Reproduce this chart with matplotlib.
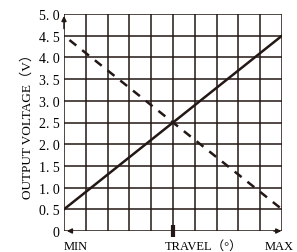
import matplotlib.pyplot as plt

# travel in grid units (0 = MIN, 10 = MAX), output voltage in volts
travel_solid = [0, 10]
volt_solid = [0.5, 4.5]
travel_dashed = [0.25, 10]
volt_dashed = [4.4, 0.5]
yticks = [0, 0.5, 1.0, 1.5, 2.0, 2.5, 3.0, 3.5, 4.0, 4.5, 5.0]
ytick_labels = ["0", "0. 5", "1. 0", "1. 5", "2. 0", "2. 5", "3. 0", "3. 5", "4. 0", "4. 5", "5. 0"]

ink = "#231815"
plt.rcParams['font.family'] = ['Liberation Serif', 'Noto Sans CJK JP', 'DejaVu Serif']

fig = plt.figure(figsize=(2.97, 2.53), dpi=100)
ax = fig.add_axes([64 / 297, 21 / 253, 218 / 297, 217 / 253])
ax.set_xlim(0, 10)
ax.set_ylim(0, 5)

# grid
for x in range(0, 11):
    ax.axvline(x, color=ink, linewidth=1.1, zorder=1)
for y in yticks:
    ax.axhline(y, color=ink, linewidth=1.1, zorder=1)

ax.plot(travel_solid, volt_solid, color=ink, linewidth=1.8, zorder=3)
ax.plot(travel_dashed, volt_dashed, color=ink, linewidth=1.8, linestyle=(0, (3.5, 3)), zorder=3)

for s in ax.spines.values():
    s.set_visible(False)
ax.set_xticks([])
ax.set_yticks(yticks)
ax.set_yticklabels(ytick_labels, fontsize=10)
ax.tick_params(axis='y', length=0, pad=3)

# arrows on the axes
ax.annotate("", xy=(0, 5.02), xytext=(0, 4.6),
            arrowprops=dict(arrowstyle="-|>", color=ink, lw=1.1, mutation_scale=7), annotation_clip=False)
ax.annotate("", xy=(10.1, 0), xytext=(9.5, 0),
            arrowprops=dict(arrowstyle="-|>", color=ink, lw=1.1, mutation_scale=7), annotation_clip=False)
ax.annotate("", xy=(0, 0), xytext=(0.5, 0),
            arrowprops=dict(arrowstyle="-|>", color=ink, lw=1.1, mutation_scale=7), annotation_clip=False)
ax.plot([5], [0], marker="|", markersize=8, markeredgewidth=3, color=ink, clip_on=False, zorder=4)

ax.set_ylabel("OUTPUT VOLTAGE（V）", fontsize=9.5, labelpad=4)
ax.text(0.0, -0.35, "MIN", ha="left", va="center", fontsize=9)
ax.text(4.63, -0.35, "TRAVEL（°）", ha="left", va="center", fontsize=9)
ax.text(10.55, -0.35, "MAX", ha="right", va="center", fontsize=9)

fig.savefig("out.png", dpi=100)
